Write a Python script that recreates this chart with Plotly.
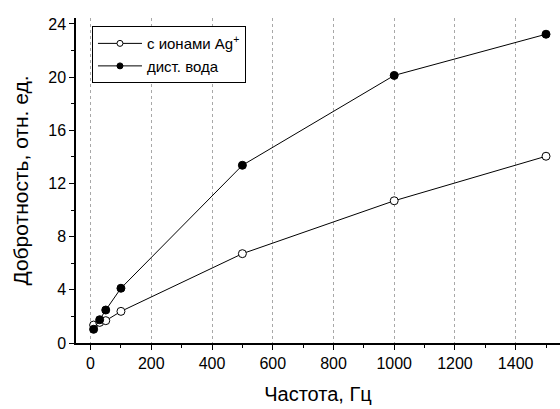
import plotly.graph_objects as go

# Frequency points, Hz
freq = [10, 30, 50, 100, 500, 1000, 1500]
# Quality factor, relative units
q_silver = [1.35, 1.55, 1.68, 2.38, 6.72, 10.7, 14.05]
q_water = [1.03, 1.75, 2.48, 4.12, 13.37, 20.13, 23.23]

series_names = ["с ионами Ag<sup>+</sup>", "дист. вода"]
x_title = "Частота, Гц"
y_title = "Добротность, отн. ед."

FONT = "Arial, Liberation Sans, sans-serif"

open_marker = dict(symbol="circle", color="white", line=dict(color="black", width=1))
filled_marker = dict(symbol="circle", color="black", line=dict(color="black", width=1))

fig = go.Figure()
for name, values, mk in [(series_names[0], q_silver, open_marker),
                         (series_names[1], q_water, filled_marker)]:
    fig.add_trace(go.Scatter(
        x=freq, y=values, name=name, mode="lines+markers", showlegend=False,
        line=dict(color="black", width=1), marker=dict(size=8, **mk),
    ))
    # legend entry with a smaller symbol
    fig.add_trace(go.Scatter(
        x=[None], y=[None], name=name, mode="lines+markers",
        line=dict(color="black", width=1), marker=dict(size=6, **mk),
    ))

fig.update_layout(
    width=560, height=409,
    margin=dict(l=76, r=0, t=18, b=66),
    paper_bgcolor="white", plot_bgcolor="white",
    font=dict(family=FONT, size=16, color="black"),
    showlegend=True,
    legend=dict(
        x=0.033, y=0.975, xanchor="left", yanchor="top",
        bgcolor="white", bordercolor="black", borderwidth=1,
        font=dict(family=FONT, size=15, color="black"),
        tracegroupgap=0, itemwidth=44,
    ),
)

fig.update_xaxes(
    range=[-48, 1546], tickvals=[0, 200, 400, 600, 800, 1000, 1200, 1400],
    ticks="outside", ticklen=5, tickwidth=1, tickcolor="black",
    showline=True, linecolor="black", linewidth=1.5,
    showgrid=True, gridcolor="#a8a8a8", griddash="dot", gridwidth=1,
    zeroline=False,
    minor=dict(tickvals=[100, 300, 500, 700, 900, 1100, 1300, 1500],
               ticks="outside", ticklen=3, tickcolor="black", showgrid=False),
    title=dict(text=x_title, font=dict(size=20), standoff=16),
    tickfont=dict(size=16),
)
fig.update_yaxes(
    range=[0, 24.45], tickvals=[0, 4, 8, 12, 16, 20, 24],
    ticks="outside", ticklen=5, tickwidth=1, tickcolor="black",
    showline=True, linecolor="black", linewidth=1.5,
    showgrid=False, zeroline=False,
    minor=dict(tickvals=[2, 6, 10, 14, 18, 22],
               ticks="outside", ticklen=3, tickcolor="black", showgrid=False),
    title=dict(text=y_title, font=dict(size=21), standoff=14),
    tickfont=dict(size=16),
)

fig.write_html("out.html")
